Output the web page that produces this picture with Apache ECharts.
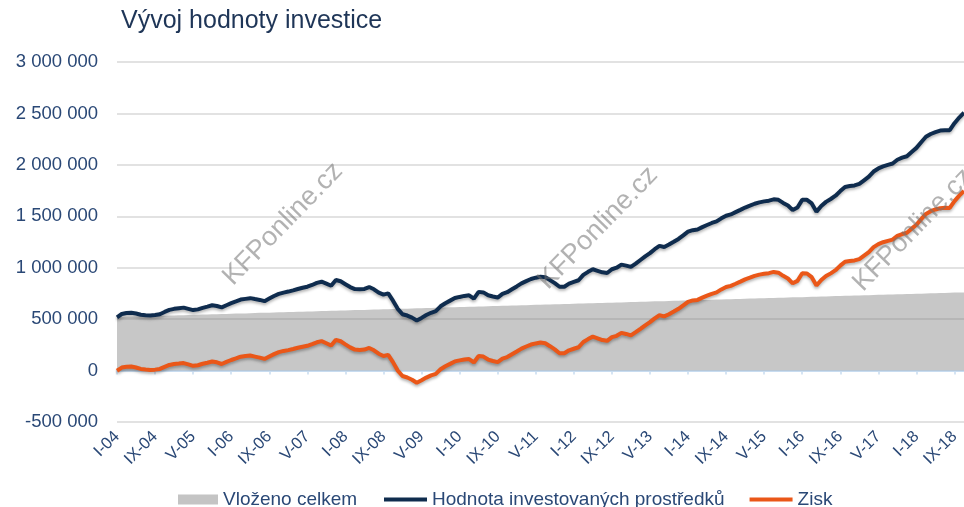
<!DOCTYPE html>
<html>
<head>
	<meta charset="utf-8">
	<title>Vývoj hodnoty investice</title>
	<style>
		* { margin: 0; padding: 0; box-sizing: border-box; }
		body { background: #fff; overflow: hidden; }
		#chart { width: 964px; height: 507px; }
	</style>
	<script src="https://cdn.jsdelivr.net/npm/echarts@6/dist/echarts.min.js"></script>
</head>
<body>
<div id="chart"></div>
<script>
	// mesice I-04 .. XI-18, popisky kazdych 8 mesicu
	var mesice = ['I','II','III','IV','V','VI','VII','VIII','IX','X','XI','XII'];
	var kategorie = [];
	for (var r = 4; r <= 18; r++) {
		for (var m = 0; m < 12; m++) {
			if (r === 18 && m > 10) break;
			kategorie.push(mesice[m] + '-' + (r < 10 ? '0' + r : r));
		}
	}

	// hodnoty v tisicich Kc
	var vlozenoCelkem = [
		520,521,523,524,525,527,528,529,531,532,
		534,535,536,538,539,540,542,543,544,546,
		547,548,550,551,552,554,555,556,558,559,
		561,562,563,565,566,567,569,570,571,573,
		574,575,577,578,579,581,582,583,585,586,
		588,589,590,592,593,594,596,597,598,600,
		601,602,604,605,606,608,609,610,612,613,
		615,616,617,619,620,621,623,624,625,627,
		628,629,631,632,633,635,636,637,639,640,
		642,643,644,646,647,648,650,651,652,654,
		655,656,658,659,660,662,663,664,666,667,
		669,670,671,673,674,675,677,678,679,681,
		682,683,685,686,687,689,690,691,693,694,
		696,697,698,700,701,702,704,705,706,708,
		709,710,712,713,714,716,717,718,720,721,
		723,724,725,727,728,729,731,732,733,735,
		736,737,739,740,741,743,744,745,747,748,
		750,751,752,754,755,756,758,759,760
	];
	var hodnota = [
		518,550,560,563,555,543,538,535,540,548,
		570,590,600,606,612,600,588,595,610,622,
		635,628,614,635,655,672,690,697,704,695,
		687,675,700,725,745,758,768,780,793,805,
		815,832,852,864,845,825,880,868,840,812,
		792,790,794,812,790,758,738,750,680,600,
		548,535,515,487,512,540,562,578,625,655,
		680,705,716,726,732,700,765,760,732,720,
		710,745,762,790,818,848,870,890,903,912,
		908,880,850,815,815,845,862,878,930,960,
		985,970,955,948,985,1000,1030,1020,1008,1040,
		1075,1110,1142,1180,1212,1202,1225,1252,1280,1315,
		1350,1365,1372,1395,1415,1435,1450,1480,1505,1518,
		1540,1562,1585,1603,1622,1635,1645,1652,1665,1660,
		1630,1605,1560,1585,1660,1660,1625,1545,1600,1640,
		1668,1700,1745,1785,1794,1800,1815,1850,1885,1935,
		1965,1985,2000,2013,2050,2070,2084,2125,2165,2220,
		2273,2300,2318,2333,2337,2337,2405,2460,2507
	];
	var zisk = [
		-2,29,37,39,30,16,10,6,9,16,
		36,55,64,68,73,60,46,52,66,76,
		88,80,64,84,103,118,135,141,146,136,
		126,113,137,160,179,191,199,210,222,232,
		241,257,275,286,266,244,298,285,255,226,
		204,201,204,220,197,164,142,153,82,0,
		-53,-67,-89,-118,-94,-68,-47,-32,13,42,
		65,89,99,107,112,79,142,136,107,93,
		82,116,131,158,185,213,234,253,264,272,
		266,237,206,169,168,197,212,227,278,306,
		330,314,297,289,325,338,367,356,342,373,
		406,440,471,507,538,527,548,574,601,634,
		668,682,687,709,728,746,760,789,812,824,
		844,865,887,903,921,933,941,947,959,952,
		921,895,848,872,946,944,908,827,880,919,
		945,976,1020,1058,1066,1071,1084,1118,1152,1200,
		1229,1248,1261,1273,1309,1327,1340,1380,1418,1472,
		1523,1549,1566,1579,1582,1581,1647,1701,1747
	];

	var TIS = 1000;
	function naKc(arr) { return arr.map(function (v) { return v * TIS; }); }

	function formatCislo(v) {
		var s = String(Math.abs(v)).replace(/\B(?=(\d{3})+(?!\d))/g, ' ');
		return (v < 0 ? '-' : '') + s;
	}

	var labelColor = '#2a4876';
	var legendText = { color: labelColor, fontSize: 19 };
	var chart = echarts.init(document.getElementById('chart'), null, { renderer: 'canvas' });

	function watermark(x, y) {
		return {
			type: 'text',
			x: x, y: y,
			rotation: 0.80,
			z: 100,
			silent: true,
			style: {
				text: 'KFPonline.cz',
				fontFamily: 'Liberation Sans, Arial, sans-serif',
				fontSize: 27,
				fill: 'rgba(115,115,115,0.55)',
				align: 'center',
				verticalAlign: 'middle'
			}
		};
	}

	chart.setOption({
		animation: false,
		textStyle: { fontFamily: 'Liberation Sans, Arial, sans-serif' },
		title: {
			text: 'Vývoj hodnoty investice',
			left: 121, top: 9, padding: 0,
			textStyle: { color: '#1e3557', fontSize: 25, fontWeight: 'normal' }
		},
		legend: [
			{
				left: 178, top: 490, padding: 0,
				itemWidth: 40, itemHeight: 10, itemGap: 27,
				textStyle: legendText,
				data: [{ name: 'Vloženo celkem', icon: 'rect', itemStyle: { color: '#c4c4c4' } }]
			},
			{
				left: 384, top: 490, padding: 0,
				itemWidth: 43, itemHeight: 4, itemGap: 25,
				textStyle: legendText,
				data: [
					{ name: 'Hodnota investovaných prostředků', icon: 'rect' },
					{ name: 'Zisk', icon: 'rect' }
				]
			}
		],
		grid: { left: 117, right: 0, top: 62, bottom: 85 },
		xAxis: [
			{
				type: 'category', data: kategorie, boundaryGap: false,
				axisLine: { onZero: true, lineStyle: { color: '#c8dcf0', width: 2 } },
				axisTick: { interval: 7, length: 4, lineStyle: { color: '#c8dcf0', width: 1.5 } },
				axisLabel: { show: false },
				splitLine: { show: false }
			},
			{
				type: 'category', data: kategorie, boundaryGap: false, position: 'bottom',
				axisLine: { show: false, onZero: false },
				axisTick: { show: false },
				axisLabel: { interval: 7, rotate: 45, margin: 12, color: labelColor, fontSize: 16.5 },
				splitLine: { show: false }
			}
		],
		yAxis: {
			type: 'value', min: -500000, max: 3000000, interval: 500000,
			axisLine: { show: false }, axisTick: { show: false },
			axisLabel: { color: labelColor, fontSize: 18.5, margin: 19, formatter: formatCislo },
			splitLine: { lineStyle: { color: '#d9d9d9', width: 1.5 } }
		},
		series: [
			{
				name: 'Vloženo celkem', type: 'line', data: naKc(vlozenoCelkem),
				symbol: 'none', z: 1,
				lineStyle: { width: 0, color: 'rgba(125,125,125,0.6)' },
				itemStyle: { color: '#c4c4c4' },
				areaStyle: { color: 'rgba(122,122,122,0.6)', origin: 'auto' }
			},
			{
				name: 'Hodnota investovaných prostředků', type: 'line', data: naKc(hodnota),
				symbol: 'none', z: 3,
				itemStyle: { color: '#0f2c4e' },
				lineStyle: { width: 4, color: '#0f2c4e', shadowColor: 'rgba(0,0,0,0.3)', shadowBlur: 3, shadowOffsetY: 2 }
			},
			{
				name: 'Zisk', type: 'line', data: naKc(zisk),
				symbol: 'none', z: 3,
				itemStyle: { color: '#ea5718' },
				lineStyle: { width: 4, color: '#ea5718', shadowColor: 'rgba(0,0,0,0.3)', shadowBlur: 3, shadowOffsetY: 2 }
			}
		],
		graphic: [watermark(283, 224), watermark(598, 228), watermark(913, 230)]
	});
</script>
</body>
</html>
